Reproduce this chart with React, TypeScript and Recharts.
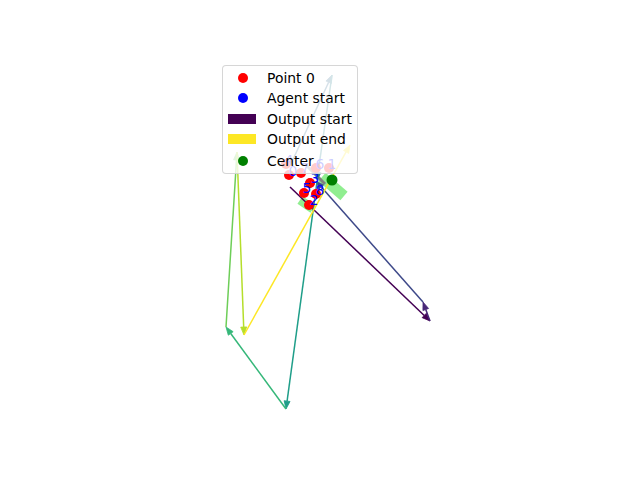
import { ScatterChart, Scatter, XAxis, YAxis, ReferenceLine } from "recharts";

// arrows of the agent path (data units, y up)
const arrowX1 = [290, 430, 423, 290, 332, 317, 286, 226, 237, 244];
const arrowY1 = [293, 159, 178, 314, 405, 298, 71, 153, 328, 145];
const arrowX2 = [430, 423, 316, 332, 317, 286, 226, 237, 244, 350];
const arrowY2 = [159, 178, 299, 405, 300, 71, 153, 328, 145, 335];
const arrowColors = [
  "#440154",
  "#482878",
  "#3e4989",
  "#31688e",
  "#26828e",
  "#1f9e89",
  "#35b779",
  "#6ece58",
  "#b5de2b",
  "#fde725",
];

// points 0..8
const pointLabels = ["0", "1", "2", "3", "4", "5", "6", "7", "8"];
const pointX = [289, 329, 309, 310, 286, 304, 316, 301, 316];
const pointY = [305, 312, 275, 297, 316, 287, 312, 307, 286];
const labelX = [293, 332, 314, 315, 289, 307, 320, 305, 320];
const labelY = [309, 316, 280, 302, 320, 292, 316, 312, 290];

const agentStart = [{ x: 310, y: 297 }];
const center = [{ x: 332, y: 300 }];

// light green patches and gray segment
const patchX1 = [322, 300];
const patchY1 = [303, 280];
const patchX2 = [344, 313];
const patchY2 = [284, 271];
const patchWidth = [11, 9];
const grayLine = [
  { x: 307, y: 314 },
  { x: 325, y: 296 },
];

const points = pointX.map((x, i) => ({ x, y: pointY[i] }));
const labels = labelX.map((x, i) => ({ x, y: labelY[i], label: pointLabels[i] }));

const ArrowShape = ({ x1, y1, x2, y2, color }: any) => {
  const dx = x2 - x1;
  const dy = y2 - y1;
  const len = Math.hypot(dx, dy) || 1;
  const ux = dx / len;
  const uy = dy / len;
  const hl = 8;
  const hw = 3;
  const bx = x2 - ux * hl;
  const by = y2 - uy * hl;
  const pts = `${x2},${y2} ${bx - uy * hw},${by + ux * hw} ${bx + uy * hw},${by - ux * hw}`;
  return (
    <g>
      <line x1={x1} y1={y1} x2={bx} y2={by} stroke={color} strokeWidth={1.5} />
      <polygon points={pts} fill={color} stroke={color} strokeWidth={0.8} />
    </g>
  );
};

const legendRows = [
  { name: "Point 0", color: "red", kind: "dot" },
  { name: "Agent start", color: "blue", kind: "dot" },
  { name: "Output start", color: "#440154", kind: "rect" },
  { name: "Output end", color: "#fde725", kind: "rect" },
  { name: "Center", color: "green", kind: "dot" },
];

export default function App() {
  return (
    <div
      style={{
        position: "absolute",
        left: 0,
        top: 0,
        width: 640,
        height: 480,
        background: "#fff",
        fontFamily: "DejaVu Sans",
      }}
    >
      <ScatterChart width={640} height={480} margin={{ top: 0, right: 0, bottom: 0, left: 0 }}>
        <XAxis type="number" dataKey="x" domain={[0, 640]} hide />
        <YAxis type="number" dataKey="y" domain={[0, 480]} hide />

        {patchX1.map((x, i) => (
          <ReferenceLine
            key={`p${i}`}
            ifOverflow="visible"
            segment={[
              { x, y: patchY1[i] },
              { x: patchX2[i], y: patchY2[i] },
            ]}
            stroke="#90ee90"
            strokeWidth={patchWidth[i]}
          />
        ))}

        <Scatter
          data={agentStart}
          isAnimationActive={false}
          shape={(p: any) => <circle cx={p.cx} cy={p.cy} r={4.5} fill="blue" />}
        />
        <Scatter
          data={points}
          isAnimationActive={false}
          shape={(p: any) => <circle cx={p.cx} cy={p.cy} r={5} fill="red" />}
        />

        <ReferenceLine ifOverflow="visible" segment={grayLine} stroke="#808080" strokeWidth={3} />

        {arrowX1.map((x, i) => (
          <ReferenceLine
            key={`a${i}`}
            ifOverflow="visible"
            segment={[
              { x, y: arrowY1[i] },
              { x: arrowX2[i], y: arrowY2[i] },
            ]}
            shape={(p: any) => <ArrowShape {...p} color={arrowColors[i]} />}
          />
        ))}

        <Scatter
          data={labels}
          isAnimationActive={false}
          shape={(p: any) => (
            <text
              x={p.cx}
              y={p.cy}
              fill="blue"
              fontSize={13.9}
              fontFamily="DejaVu Sans"
              textAnchor="middle"
              dominantBaseline="central"
            >
              {p.payload.label}
            </text>
          )}
        />
        <Scatter
          data={center}
          isAnimationActive={false}
          shape={(p: any) => <circle cx={p.cx} cy={p.cy} r={5.5} fill="green" />}
        />
      </ScatterChart>

      {/* legend box over the plot, semi transparent like matplotlib */}
      <div
        style={{
          position: "absolute",
          left: 222,
          top: 65,
          width: 134,
          height: 107,
          background: "rgba(255,255,255,0.8)",
          border: "1px solid rgba(204,204,204,0.8)",
          borderRadius: 4,
        }}
      >
        {legendRows.map((r, i) => (
          <div
            key={r.name}
            style={{
              position: "absolute",
              left: 0,
              top: [12, 32, 53, 73, 95][i] - 10,
              height: 20,
              display: "flex",
              alignItems: "center",
              fontSize: 13.9,
              color: "#000",
              whiteSpace: "nowrap",
            }}
          >
            {r.kind === "dot" ? (
              <div
                style={{
                  marginLeft: 15,
                  width: 10,
                  height: 10,
                  borderRadius: 5,
                  background: r.color,
                  marginRight: 19,
                }}
              />
            ) : (
              <div
                style={{
                  marginLeft: 5,
                  width: 28,
                  height: 10,
                  background: r.color,
                  marginRight: 11,
                }}
              />
            )}
            <span>{r.name}</span>
          </div>
        ))}
      </div>
    </div>
  );
}
